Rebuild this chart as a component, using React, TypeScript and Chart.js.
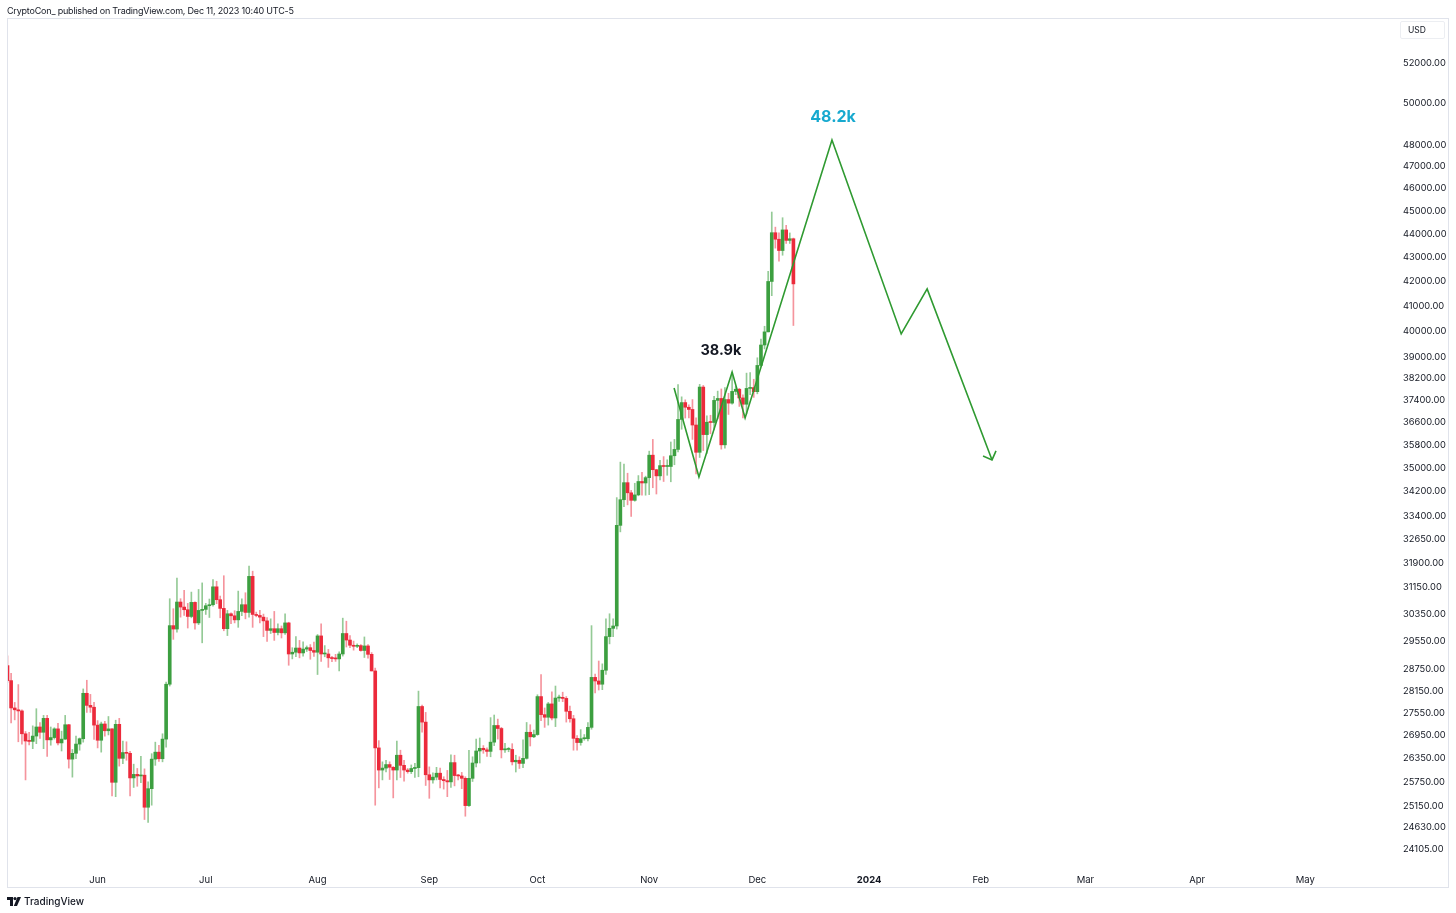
import React, { useEffect, useRef } from "react";
import { Chart, registerables } from "chart.js";
Chart.register(...registerables);

// Daily BTC/USD candles, one per day starting 2023-05-07 (index 0) through 2023-12-11
const candleOpen = [
  // May 7-31
  28850, 28430, 27680, 27630, 27600, 26990, 26800, 26790, 26930, 27170, 27030, 27400, 26830, 26890, 27120, 26750, 26850, 27230, 26330, 26480, 26720, 26860, 28080, 27750, 27700,
  // Jun
  27220, 26820, 27250, 27070, 27120, 25740, 27240, 26350, 26500, 26480, 25850, 25940, 25900, 25920, 25120, 25580, 26330, 26510, 26340, 26850, 28330, 30000, 29900, 30700, 30550, 30470, 30270, 30690, 30080, 30450,
  // Jul
  30480, 30590, 30620, 31160, 30770, 30510, 29910, 30350, 30290, 30170, 30420, 30620, 30390, 31480, 30330, 30300, 30250, 30140, 29860, 29910, 29800, 29910, 29790, 30080, 29180, 29230, 29350, 29210, 29320, 29360, 29280,
  // Aug
  29230, 29700, 29180, 29180, 29070, 29050, 29040, 29180, 29770, 29580, 29430, 29400, 29420, 29280, 29410, 29170, 28700, 26620, 26050, 26100, 26190, 26120, 26050, 26430, 26170, 26050, 26010, 26090, 26110, 27720, 27300,
  // Sep
  25930, 25800, 25870, 25970, 25810, 25780, 25750, 26240, 25910, 25900, 25840, 25160, 25840, 26230, 26540, 26610, 26570, 26530, 26770, 27210, 27130, 26570, 26580, 26580, 26260, 26300, 26220, 26350, 27030, 26910,
  // Oct
  26970, 27990, 27500, 27430, 27790, 27410, 27950, 27970, 27940, 27590, 27390, 26870, 26760, 26860, 26860, 27160, 28520, 28420, 28330, 28720, 29680, 29920, 29990, 33090, 33930, 34500, 34160, 33910, 34090, 34540, 34490,
  // Nov
  34670, 35440, 34940, 34730, 35080, 35050, 35050, 35420, 35640, 36700, 37310, 37140, 37060, 36500, 35540, 37880, 36160, 36600, 36590, 37390, 37460, 35800, 37420, 37290, 37720, 37800, 37480, 37250, 37830, 37860,
  // Dec 1-11
  37710, 38690, 39470, 39980, 42000, 44050, 43770, 43290, 44170, 43720, 43790,
];
const candleHigh = [
  29130, 28630, 27830, 28320, 27630, 27050, 27030, 27200, 27660, 27290, 27480, 27480, 27170, 27150, 27270, 27060, 27480, 27240, 26580, 26930, 26880, 28200, 28440, 28050, 27830,
  27340, 27300, 27320, 27450, 27130, 27350, 27400, 26800, 26780, 26530, 26200, 26090, 26400, 26080, 25750, 26470, 26770, 26690, 26990, 28390, 30800, 30500, 31430, 30800, 31050, 30660, 31000, 30710, 31080, 31280,
  30660, 30790, 31380, 31330, 30880, 31500, 30450, 30380, 30440, 31030, 30800, 30980, 31800, 31640, 30400, 30450, 30340, 30240, 30200, 30420, 30050, 29990, 30350, 30100, 29360, 29680, 29570, 29530, 29410, 29450, 29520,
  29740, 30050, 29420, 29310, 29110, 29170, 29240, 30220, 30130, 29710, 29550, 29470, 29450, 29670, 29450, 29220, 28780, 26810, 26260, 26300, 26260, 26140, 26800, 26560, 26300, 26090, 26180, 26220, 28140, 27760, 27560,
  26130, 25980, 26120, 26100, 25880, 26040, 26440, 26430, 25940, 25990, 25880, 26560, 26390, 26850, 26880, 26680, 26620, 27420, 27490, 27380, 27160, 26740, 26630, 26730, 26430, 26390, 26830, 27290, 27230, 27090,
  28040, 28600, 27680, 27830, 28120, 28280, 28030, 28110, 27990, 27730, 27480, 26940, 27100, 26970, 27290, 30000, 28610, 28980, 28900, 30200, 30350, 30200, 34000, 35200, 35130, 34820, 34240, 34480, 34740, 34850, 34720,
  35580, 35990, 34950, 35260, 35390, 35280, 35900, 35990, 37970, 37520, 37410, 37230, 37420, 36760, 37980, 37940, 36830, 36850, 37540, 37730, 37810, 37860, 37650, 38430, 37900, 37830, 37590, 38400, 38420, 38170,
  38980, 39700, 40200, 42420, 44950, 44290, 44050, 44700, 44370, 44040, 43820,
];
const candleLow = [
  28380, 27280, 27360, 26780, 26720, 25800, 26700, 26600, 26730, 26870, 26600, 26400, 26690, 26850, 26700, 26540, 26840, 26100, 25870, 26340, 26560, 26770, 27560, 27560, 26840,
  26620, 26510, 26930, 26960, 25400, 25380, 26150, 26210, 26300, 25400, 25610, 25640, 25730, 24820, 24750, 25170, 26170, 26270, 26260, 26640, 28280, 29600, 29810, 30250, 30300, 29930, 30230, 29900, 30030, 29500,
  30330, 30240, 30580, 30650, 30230, 29850, 29710, 30060, 30080, 29950, 30290, 30200, 30250, 29950, 30260, 30080, 29680, 29540, 29770, 29570, 29730, 29640, 29740, 28860, 29040, 29100, 29070, 29120, 29250, 29030, 29110,
  28600, 28970, 29100, 28800, 28960, 28970, 28700, 29120, 29380, 29360, 29290, 29360, 29260, 29080, 29060, 28700, 25170, 25600, 25800, 26000, 25810, 25350, 25800, 25860, 25770, 25970, 25960, 25860, 25880, 27030, 25660,
  25340, 25720, 25800, 25600, 25570, 25380, 25610, 25650, 25800, 25580, 24900, 25140, 25760, 26130, 26230, 26480, 26400, 26390, 26680, 26850, 26360, 26500, 26520, 26180, 26000, 26090, 26110, 26330, 26670, 26890,
  26950, 27340, 27160, 27220, 27360, 27180, 27860, 27850, 27300, 27300, 26560, 26560, 26690, 26820, 26800, 27110, 28090, 28170, 28180, 28600, 29470, 29680, 29900, 32880, 33700, 33760, 33380, 33880, 34060, 34080, 34080,
  34100, 34330, 34120, 34590, 34540, 34750, 34530, 35110, 35550, 36350, 36750, 36750, 35990, 34800, 35360, 35600, 35500, 36190, 36340, 36720, 35650, 35680, 36880, 37250, 37600, 37170, 36750, 36900, 37600, 37500,
  37630, 38650, 39320, 39980, 41420, 43390, 42840, 43090, 43590, 43590, 40230,
];
const candleClose = [
  28430, 27680, 27630, 27600, 26990, 26800, 26790, 26930, 27170, 27030, 27400, 26830, 26890, 27120, 26750, 26850, 27230, 26330, 26480, 26720, 26860, 28080, 27750, 27700, 27220,
  26820, 27250, 27070, 27120, 25740, 27240, 26350, 26500, 26480, 25850, 25940, 25900, 25920, 25120, 25580, 26330, 26510, 26340, 26850, 28330, 30000, 29900, 30700, 30550, 30470, 30270, 30690, 30080, 30450, 30480,
  30590, 30620, 31160, 30770, 30510, 29910, 30350, 30290, 30170, 30420, 30620, 30390, 31480, 30330, 30300, 30250, 30140, 29860, 29910, 29800, 29910, 29790, 30080, 29180, 29230, 29350, 29210, 29320, 29360, 29280, 29230,
  29700, 29180, 29180, 29070, 29050, 29040, 29180, 29770, 29580, 29430, 29400, 29420, 29280, 29410, 29170, 28700, 26620, 26050, 26100, 26190, 26120, 26050, 26430, 26170, 26050, 26010, 26090, 26110, 27720, 27300, 25930,
  25800, 25870, 25970, 25810, 25780, 25750, 26240, 25910, 25900, 25840, 25160, 25840, 26230, 26540, 26610, 26570, 26530, 26770, 27210, 27130, 26570, 26580, 26580, 26260, 26300, 26220, 26350, 27030, 26910, 26970,
  27990, 27500, 27430, 27790, 27410, 27950, 27970, 27940, 27590, 27390, 26870, 26760, 26860, 26860, 27160, 28520, 28420, 28330, 28720, 29680, 29920, 29990, 33090, 33930, 34500, 34160, 33910, 34090, 34540, 34490, 34670,
  35440, 34940, 34730, 35080, 35050, 35050, 35420, 35640, 36700, 37310, 37140, 37060, 36500, 35540, 37880, 36160, 36600, 36590, 37390, 37460, 35800, 37420, 37290, 37720, 37800, 37480, 37250, 37830, 37860, 37710,
  38690, 39470, 39980, 42000, 44050, 43770, 43290, 44170, 43720, 43790, 41900,
];

// Time axis: day index counted from 2023-05-07
const monthTickDays = [25, 55, 86, 117, 147, 178, 208, 239, 270, 299, 330, 360];
const monthTickLabels = ["Jun", "Jul", "Aug", "Sep", "Oct", "Nov", "Dec", "2024", "Feb", "Mar", "Apr", "May"];

// Price axis labels
const priceTicks = [
  52000, 50000, 48000, 47000, 46000, 45000, 44000, 43000, 42000, 41000, 40000, 39000, 38200, 37400, 36600, 35800,
  35000, 34200, 33400, 32650, 31900, 31150, 30350, 29550, 28750, 28150, 27550, 26950, 26350, 25750, 25150, 24630, 24105,
];

// Hand-drawn projection path (day index, price)
const projDays = [184.9, 191.8, 201.0, 204.6, 228.7, 247.9, 255.1, 273.1];
const projPrices = [37846, 34694, 38442, 36755, 48230, 39900, 41694, 35276];
const arrowDays = [270.6, 273.1, 274.2];
const arrowPrices = [35410, 35276, 35588];

// Text annotations
const noteTexts = ["48.2k", "38.9k"];
const noteDays = [229.0, 197.9];
const notePrices = [49330, 39240];
const noteColors = ["#17a9cf", "#131722"];
const noteSizes = [16, 14.5];

const UP = "#3c9f40";
const DOWN = "#ec2a3b";
const UP_WICK = "rgba(60,159,64,0.55)";
const DOWN_WICK = "rgba(236,42,59,0.5)";
const LINE = "#2f9a31";

const notesPlugin = {
  id: "notes",
  afterDatasetsDraw(chart: any) {
    const { ctx, scales } = chart;
    ctx.save();
    noteTexts.forEach((t, i) => {
      ctx.font = `bold ${noteSizes[i]}px Inter, "Noto Sans", sans-serif`;
      ctx.fillStyle = noteColors[i];
      ctx.textAlign = "center";
      ctx.textBaseline = "middle";
      ctx.fillText(t, scales.x.getPixelForValue(noteDays[i]), scales.y.getPixelForValue(notePrices[i]));
    });
    ctx.restore();
  },
};

const framePlugin = {
  id: "frame",
  afterDraw(chart: any) {
    const { ctx } = chart;
    ctx.save();
    ctx.strokeStyle = "#e0e3eb";
    ctx.lineWidth = 1;
    ctx.strokeRect(7.5, 18.5, 1441, 869);
    ctx.restore();
  },
};

export default function App() {
  const ref = useRef<HTMLCanvasElement | null>(null);

  useEffect(() => {
    if (!ref.current) return;
    const wickData: any[] = [];
    const bodyData: any[] = [];
    const wickColors: string[] = [];
    const bodyColors: string[] = [];
    candleClose.forEach((c, i) => {
      const o = candleOpen[i];
      const up = c >= o;
      wickData.push({ x: i, y: [candleLow[i], candleHigh[i]] });
      bodyData.push({ x: i, y: [Math.min(o, c), Math.max(o, c)] });
      wickColors.push(up ? UP_WICK : DOWN_WICK);
      bodyColors.push(up ? UP : DOWN);
    });

    const chart = new Chart(ref.current, {
      type: "bar",
      data: {
        datasets: [
          {
            type: "line",
            data: projDays.map((d, i) => ({ x: d, y: projPrices[i] })),
            borderColor: LINE,
            borderWidth: 1.6,
            pointRadius: 0,
            tension: 0,
            order: 0,
          } as any,
          {
            type: "line",
            data: arrowDays.map((d, i) => ({ x: d, y: arrowPrices[i] })),
            borderColor: LINE,
            borderWidth: 1.6,
            pointRadius: 0,
            tension: 0,
            order: 0,
          } as any,
          {
            type: "bar",
            data: bodyData,
            backgroundColor: bodyColors,
            borderWidth: 0,
            barThickness: 3,
            minBarLength: 1,
            grouped: false,
            order: 1,
          } as any,
          {
            type: "bar",
            data: wickData,
            backgroundColor: wickColors,
            borderWidth: 0,
            barThickness: 1,
            grouped: false,
            order: 2,
          } as any,
        ],
      },
      options: {
        responsive: false,
        animation: false,
        events: [],
        layout: { padding: { left: 7, top: 20, right: 0, bottom: 0 } },
        plugins: { legend: { display: false }, tooltip: { enabled: false } },
        scales: {
          x: {
            type: "linear",
            offset: false,
            bounds: "data",
            min: -0.14,
            max: 385.71,
            grid: { display: false, drawTicks: false, offset: false },
            border: { display: false },
            afterBuildTicks: (s: any) => {
              s.ticks = monthTickDays.map((v) => ({ value: v }));
            },
            afterFit: (s: any) => {
              s.height = 53;
            },
            ticks: {
              autoSkip: false,
              maxRotation: 0,
              padding: 14,
              color: "#131722",
              font: (ctx: any) => ({
                family: "Inter, sans-serif",
                size: 9.5,
                weight: ctx && ctx.tick && ctx.tick.value === 239 ? "bold" : "normal",
              }),
              callback: (v: any) => {
                const i = monthTickDays.indexOf(Number(v));
                return i >= 0 ? monthTickLabels[i] : "";
              },
            },
          },
          y: {
            type: "logarithmic",
            position: "right",
            min: 23857,
            max: 54232,
            grid: { display: false, drawTicks: false },
            border: { display: false },
            afterBuildTicks: (s: any) => {
              s.ticks = priceTicks.map((v) => ({ value: v }));
            },
            afterFit: (s: any) => {
              s.width = 58;
            },
            ticks: {
              autoSkip: false,
              padding: 5,
              color: "#131722",
              font: { family: "Inter, sans-serif", size: 9.3 },
              callback: (v: any) => Number(v).toFixed(2),
            },
          },
        },
      } as any,
      plugins: [notesPlugin, framePlugin],
    });
    return () => chart.destroy();
  }, []);

  return (
    <div
      style={{
        position: "fixed",
        left: 0,
        top: 0,
        width: 1456,
        height: 913,
        background: "#ffffff",
        fontFamily: "Inter, 'Noto Sans', sans-serif",
        color: "#131722",
        overflow: "hidden",
      }}
    >
      <canvas ref={ref} width={1456} height={913} style={{ position: "absolute", left: 0, top: 0, width: 1456, height: 913 }} />
      <div style={{ position: "absolute", left: 7, top: 5, fontSize: 9, letterSpacing: "-0.2px", lineHeight: "12px", whiteSpace: "nowrap" }}>
        CryptoCon_ published on TradingView.com, Dec 11, 2023 10:40 UTC-5
      </div>
      <div
        style={{
          position: "absolute",
          left: 1400,
          top: 21,
          width: 45,
          height: 18,
          boxSizing: "border-box",
          border: "1px solid #eceef2",
          borderRadius: 2,
          fontSize: 8.5,
          lineHeight: "16px",
          paddingLeft: 7,
        }}
      >
        USD
      </div>
      <div style={{ position: "absolute", left: 7, top: 895, display: "flex", alignItems: "center", gap: 3 }}>
        <svg width="14" height="9" viewBox="0 0 14 9">
          <path d="M0 0H6V9H3V3H0Z" fill="#131722" />
          <circle cx="8" cy="1.6" r="1.6" fill="#131722" />
          <path d="M10.5 0H14L10 9H6.8Z" fill="#131722" />
        </svg>
        <span style={{ fontSize: 10, fontWeight: 500, lineHeight: "12px" }}>TradingView</span>
      </div>
    </div>
  );
}
